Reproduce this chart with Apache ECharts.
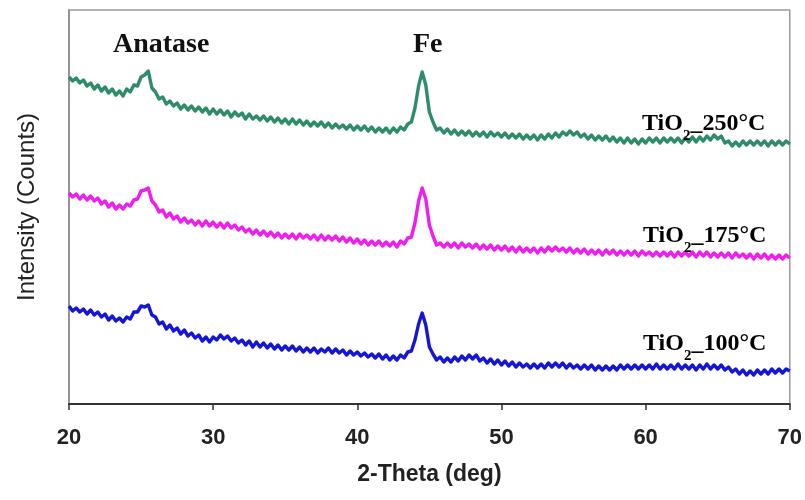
<!DOCTYPE html>
<html>
<head>
<meta charset="utf-8">
<script src="https://cdn.jsdelivr.net/npm/echarts@6/dist/echarts.min.js"></script>
<style>
html,body{margin:0;padding:0;background:#fff;}
#chart{width:805px;height:500px;}
</style>
</head>
<body>
<div id="chart"></div>
<script>
// 2-Theta scan grid: 20 to 70 deg, step 0.25
var thetaStart = 20;
var thetaStep = 0.25;
var xTicks = [20, 30, 40, 50, 60, 70];

var seriesNames = ['TiO2_250°C', 'TiO2_175°C', 'TiO2_100°C'];

// Intensities (arbitrary counts, offset-stacked)
var tio2_250 = [
327,323,326,321,324,318,321,315,319,313,317,311,315,309,313,308,315,312,319,318,
327,329,333,316,312,305,307,300,303,298,301,295,299,294,298,293,297,292,296,290,
295,290,294,289,293,287,292,288,291,285,290,285,288,284,288,283,287,282,286,281,
285,280,285,280,284,279,283,278,282,278,282,277,281,276,280,276,279,275,279,274,
278,274,278,273,277,272,276,272,276,271,276,272,277,274,280,282,296,318,332,319,
292,282,274,276,271,275,270,274,269,273,269,273,268,272,268,272,267,272,268,271,
267,271,266,270,266,270,265,269,265,269,264,269,265,270,266,271,267,272,269,273,
269,272,267,270,265,269,264,268,264,268,263,267,262,266,261,266,261,265,260,265,
261,266,262,266,261,266,262,266,262,266,261,266,262,267,262,267,263,268,264,269,
265,268,261,263,258,262,258,263,259,263,259,263,259,263,258,263,259,263,259,263,
260
];
var tio2_175 = [
211,207,210,205,209,204,208,203,206,200,203,197,201,195,199,195,200,198,204,205,
213,214,216,203,199,192,194,187,191,185,188,182,186,181,184,179,183,178,183,178,
182,177,181,176,181,176,179,174,177,172,175,170,174,169,173,168,172,167,171,166,
170,166,170,165,170,166,169,165,169,164,169,164,168,164,168,163,167,162,166,161,
165,160,164,159,163,159,163,158,162,158,162,157,163,160,166,167,181,203,216,205,
179,168,159,161,157,161,157,161,156,161,157,160,156,160,155,159,155,159,154,158,
154,158,153,157,152,157,152,156,152,156,151,156,152,157,153,157,153,156,152,156,
151,155,151,155,150,154,150,154,149,154,150,154,149,153,149,153,149,153,148,153,
149,152,148,152,148,152,148,152,147,152,148,152,148,152,147,152,148,152,147,151,
147,151,147,151,146,151,147,150,146,150,145,150,146,150,145,149,145,149,145,149,
146
];
var tio2_100 = [
98,93,96,92,95,90,94,89,92,87,90,84,88,83,86,82,87,85,92,92,
98,97,99,89,87,80,82,75,79,73,76,70,74,68,71,66,69,63,67,62,
67,64,69,65,68,63,66,61,64,59,63,57,62,57,61,56,60,55,59,54,
58,54,58,53,57,52,56,52,56,51,55,52,56,51,55,51,54,49,53,49,
52,48,51,47,50,46,50,45,49,44,48,44,49,46,52,53,64,80,91,79,
57,50,44,47,42,46,42,47,43,48,44,49,45,49,43,46,41,45,40,44,
39,43,38,42,37,41,37,40,36,40,36,40,36,41,37,41,37,41,36,40,
36,39,35,39,35,39,34,38,34,38,34,38,34,39,35,39,35,39,35,39,
35,39,35,40,35,39,35,39,35,40,35,39,35,39,34,39,35,40,35,39,
35,39,34,37,32,35,30,34,29,33,29,34,30,34,30,35,31,35,31,35,
33
];

var seriesColors = ['#2f8c69', '#ee1eee', '#1515d6'];

function toPairs(vals) {
  var out = [];
  for (var i = 0; i < vals.length; i++) {
    out.push([thetaStart + i * thetaStep, vals[i]]);
  }
  return out;
}

var chart = echarts.init(document.getElementById('chart'), null, {renderer: 'canvas'});

var dataSets = [tio2_250, tio2_175, tio2_100];
var series = dataSets.map(function (d, k) {
  return {
    name: seriesNames[k],
    type: 'line',
    data: toPairs(d),
    showSymbol: false,
    symbol: 'none',
    smooth: false,
    lineStyle: {color: seriesColors[k], width: 3.4, join: 'round'},
    itemStyle: {color: seriesColors[k]},
    animation: false,
    z: 3
  };
});

var serif = '"Liberation Serif","Times New Roman",serif';
var sans = '"Liberation Sans",Arial,sans-serif';
var labelRich = {
  m: {fontFamily: serif, fontWeight: 'bold', fontSize: 24, color: '#111'},
  s: {fontFamily: serif, fontWeight: 'bold', fontSize: 15, color: '#111', verticalAlign: 'bottom', padding: [0, 0, -8, 0]}
};

function sampleLabel(x, y, temp) {
  return {
    type: 'text', left: x, top: y, z: 10,
    style: {
      text: '{m|TiO}{s|2}{m|_' + temp + '°C}',
      rich: labelRich
    }
  };
}

var option = {
  animation: false,
  backgroundColor: '#fff',
  grid: {
    left: 69, right: 11, top: 10, bottom: 96,
    show: true, borderColor: '#9a9a9a', borderWidth: 1.5, backgroundColor: 'transparent'
  },
  xAxis: {
    type: 'value',
    min: xTicks[0], max: xTicks[xTicks.length - 1], interval: 10,
    name: '2-Theta (deg)',
    nameLocation: 'middle',
    nameGap: 59,
    nameTextStyle: {fontFamily: sans, fontWeight: 'bold', fontSize: 23, color: '#222'},
    axisLine: {show: true, lineStyle: {color: '#333', width: 2}},
    axisTick: {show: true, inside: false, length: 6, lineStyle: {color: '#333', width: 1.5}},
    axisLabel: {margin: 23, fontFamily: sans, fontWeight: 'bold', fontSize: 22, color: '#222'},
    splitLine: {show: false}
  },
  yAxis: {
    type: 'value',
    min: 0, max: 394,
    name: 'Intensity (Counts)',
    nameLocation: 'middle',
    nameGap: 30,
    nameRotate: 90,
    nameTextStyle: {fontFamily: sans, fontSize: 24, color: '#222'},
    axisLine: {show: true, lineStyle: {color: '#8a8a8a', width: 1.5}},
    axisTick: {show: false},
    axisLabel: {show: false},
    splitLine: {show: false}
  },
  series: series,
  graphic: [
    {type: 'text', left: 113, top: 31, z: 10,
      style: {text: 'Anatase', fontFamily: serif, fontWeight: 'bold', fontSize: 28, fill: '#111'}},
    {type: 'text', left: 413, top: 31, z: 10,
      style: {text: 'Fe', fontFamily: serif, fontWeight: 'bold', fontSize: 28, fill: '#111'}},
    sampleLabel(642, 112, '250'),
    sampleLabel(643, 224, '175'),
    sampleLabel(643, 332, '100')
  ]
};
chart.setOption(option);
</script>
</body>
</html>
